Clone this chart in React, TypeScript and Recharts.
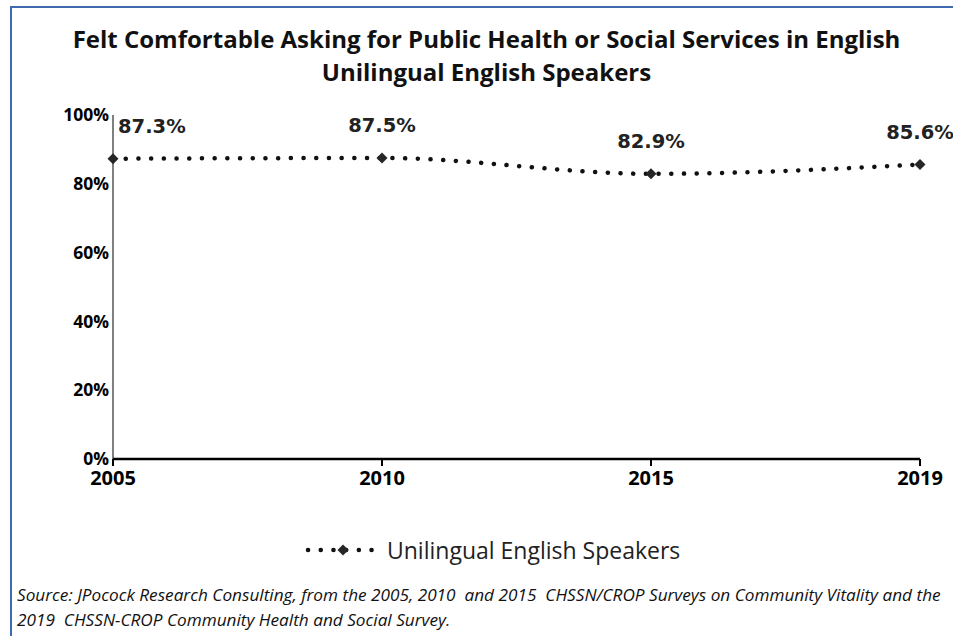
import { LineChart, Line, XAxis, YAxis } from 'recharts';

const years = ['2005', '2010', '2015', '2019'];
const shares = [87.3, 87.5, 82.9, 85.6];
const yTicks = [0, 20, 40, 60, 80, 100];

const seriesName = 'Unilingual English Speakers';
const titleLines = [
  'Felt Comfortable Asking for Public Health or Social Services in English',
  'Unilingual English Speakers',
];
const sourceLines = [
  'Source: JPocock Research Consulting, from the 2005, 2010  and 2015  CHSSN/CROP Surveys on Community Vitality and the',
  '2019  CHSSN-CROP Community Health and Social Survey.',
];

const data = years.map((year, i) => ({ year, value: shares[i] }));

const FONT = "'Open Sans', sans-serif";

function Diamond(props: any) {
  const { cx, cy } = props;
  if (cx == null || cy == null) return null;
  const r = 5.5;
  return (
    <path
      d={`M${cx},${cy - r} L${cx + r},${cy} L${cx},${cy + r} L${cx - r},${cy} Z`}
      fill="#262626"
    />
  );
}

function ValueLabel(props: any) {
  const { x, y, value, index } = props;
  const first = index === 0;
  return (
    <text
      x={first ? x + 5 : x}
      y={y - 26}
      textAnchor={first ? 'start' : 'middle'}
      fontFamily="'DejaVu Sans', sans-serif"
      fontWeight="bold"
      fontSize={19.5}
      fill="#222"
    >
      {value.toFixed(1)}%
    </text>
  );
}

export default function App() {
  return (
    <div
      style={{
        position: 'absolute',
        left: 0,
        top: 0,
        width: 953,
        height: 636,
        background: '#fff',
        overflow: 'hidden',
        fontFamily: FONT,
      }}
    >
      <div
        style={{
          position: 'absolute',
          left: 10,
          top: 6,
          width: 960,
          height: 640,
          borderLeft: '2px solid #4169B0',
          borderTop: '2px solid #4169B0',
        }}
      />
      <div
        style={{
          position: 'absolute',
          left: 20,
          width: 933,
          top: 22,
          textAlign: 'center',
          fontWeight: 'bold',
          fontSize: 24,
          lineHeight: '33px',
          color: '#111',
          whiteSpace: 'nowrap',
        }}
      >
        {titleLines.map((t) => (
          <div key={t}>{t}</div>
        ))}
      </div>

      <div style={{ position: 'absolute', left: 0, top: 0 }}>
        <LineChart
          width={953}
          height={636}
          data={data}
          margin={{ top: 115, right: 33, left: 53, bottom: 147 }}
        >
          <XAxis
            dataKey="year"
            scale="point"
            padding={{ left: 0, right: 0 }}
            height={30}
            axisLine={{ stroke: '#000', strokeWidth: 2.5 }}
            tickLine={{ stroke: '#000', strokeWidth: 2 }}
            tickSize={7}
            tickMargin={5}
            tick={{ fill: '#000', fontSize: 20, fontWeight: 'bold', fontFamily: FONT }}
          />
          <YAxis
            width={60}
            domain={[0, 100]}
            ticks={yTicks}
            tickFormatter={(v) => `${v}%`}
            axisLine={{ stroke: '#000', strokeWidth: 1 }}
            tickLine={false}
            tickSize={0}
            tickMargin={4}
            tick={{ fill: '#000', fontSize: 17.5, fontWeight: 'bold', fontFamily: FONT }}
          />
          <Line
            type="monotone"
            dataKey="value"
            name={seriesName}
            stroke="#111"
            strokeWidth={4.5}
            strokeDasharray="0.1 12.6"
            strokeLinecap="round"
            dot={<Diamond />}
            activeDot={false}
            label={<ValueLabel />}
            isAnimationActive={false}
          />
        </LineChart>
      </div>

      <div
        style={{
          position: 'absolute',
          left: 305,
          top: 534,
          display: 'flex',
          alignItems: 'center',
          fontSize: 23,
          color: '#222',
        }}
      >
        <svg width={76} height={20}>
          <line
            x1={3}
            y1={10}
            x2={73}
            y2={10}
            stroke="#111"
            strokeWidth={4.5}
            strokeDasharray="0.1 12.6"
            strokeLinecap="round"
          />
          <Diamond cx={38} cy={10} />
        </svg>
        <span style={{ marginLeft: 6 }}>{seriesName}</span>
      </div>

      <div
        style={{
          position: 'absolute',
          left: 17,
          top: 582,
          fontSize: 17.2,
          fontStyle: 'italic',
          lineHeight: '25px',
          color: '#111',
          whiteSpace: 'pre',
        }}
      >
        {sourceLines.map((t) => (
          <div key={t}>{t}</div>
        ))}
      </div>
    </div>
  );
}
